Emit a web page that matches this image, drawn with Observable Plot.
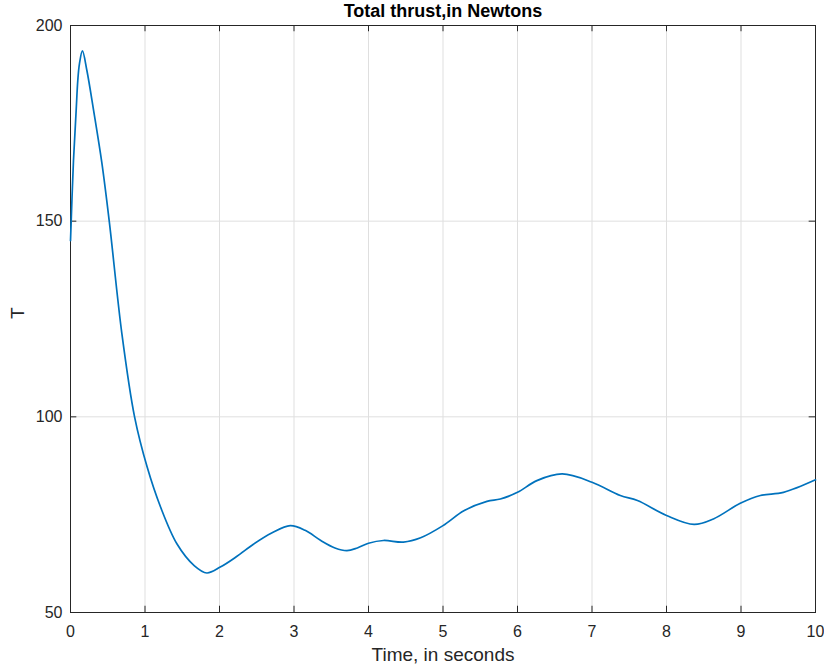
<!DOCTYPE html>
<html><head><meta charset="utf-8">
<script src="https://cdn.jsdelivr.net/npm/d3@7"></script>
<script src="https://cdn.jsdelivr.net/npm/@observablehq/plot@0.6"></script>
<style>body{margin:0;background:#fff;font-family:"Liberation Sans",Arial,sans-serif;}</style>
</head><body><div id="chart"></div>
<script>
const time = [0, 0.04, 0.076, 0.098, 0.12, 0.16, 0.22, 0.31, 0.42, 0.52, 0.69, 0.86, 1.03, 1.21, 1.43, 1.66, 1.83, 2.01, 2.23, 2.46, 2.7, 2.95, 3.15, 3.36, 3.55, 3.71, 3.85, 4.0, 4.2, 4.47, 4.7, 5.0, 5.28, 5.59, 5.77, 6.0, 6.26, 6.6, 7.0, 7.38, 7.61, 8.0, 8.37, 8.63, 8.99, 9.26, 9.57, 10.0];
const thrust = [145, 165.5, 178.3, 186, 190.2, 193.5, 188.5, 178.3, 165, 150, 121.2, 100, 87.1, 76.9, 67.5, 62, 60.1, 61.6, 64.3, 67.5, 70.3, 72.2, 71.0, 68.4, 66.5, 65.8, 66.5, 67.7, 68.4, 68.0, 69.1, 72.2, 76.0, 78.4, 79.0, 80.7, 83.7, 85.4, 83.3, 79.9, 78.6, 74.8, 72.5, 73.9, 77.9, 79.9, 80.7, 83.9];
const xTicks = [0,1,2,3,4,5,6,7,8,9,10];
const yTicks = [50,100,150,200];
const title = "Total thrust,in Newtons";
const xLabel = "Time, in seconds";
const yLabel = "T";

const data = time.map((t,i)=>({t, T: thrust[i]}));
const axisColor = "#262626";
const plot = Plot.plot({
  width: 824, height: 666,
  marginLeft: 70, marginRight: 9, marginTop: 25, marginBottom: 54,
  style: {fontFamily: '"Liberation Sans", Arial, sans-serif', fontSize: "16px", color: axisColor, background: "#fff"},
  x: {domain: [0,10], label: null},
  y: {domain: [50,200], label: null},
  marks: [
    Plot.ruleX(xTicks, {x: d=>d, stroke: "#dfdfdf", strokeWidth: 1}),
    Plot.ruleY(yTicks, {y: d=>d, stroke: "#dfdfdf", strokeWidth: 1}),
    Plot.axisX(xTicks, {anchor: "bottom", tickSize: 0, tickPadding: 13, fill: axisColor, fontSize: 16}),
    Plot.axisY(yTicks, {anchor: "left", tickSize: 0, tickPadding: 8, fill: axisColor, fontSize: 16}),
    Plot.ruleX(xTicks, {x: d=>d, y1: 50, y2: 51.6, stroke: axisColor}),
    Plot.ruleX(xTicks, {x: d=>d, y1: 200, y2: 198.4, stroke: axisColor}),
    Plot.ruleY(yTicks, {y: d=>d, x1: 0, x2: 0.085, stroke: axisColor}),
    Plot.ruleY(yTicks, {y: d=>d, x1: 10, x2: 9.915, stroke: axisColor}),
    Plot.frame({stroke: axisColor, strokeWidth: 1}),
    Plot.line(data, {x: "t", y: "T", stroke: "#0072BD", strokeWidth: 1.7, curve: "catmull-rom"}),
    Plot.text([title], {frameAnchor: "top", lineAnchor: "middle", dy: -14, text: d=>d, fontWeight: "bold", fontSize: 18, fill: "#000"}),
    Plot.text([xLabel], {frameAnchor: "bottom", lineAnchor: "middle", dy: 42, text: d=>d, fontSize: 19, fill: axisColor}),
    Plot.text([yLabel], {frameAnchor: "left", dx: -53, rotate: -90, text: d=>d, fontSize: 19, fill: axisColor})
  ]
});
document.getElementById("chart").appendChild(plot);
</script></body></html>
